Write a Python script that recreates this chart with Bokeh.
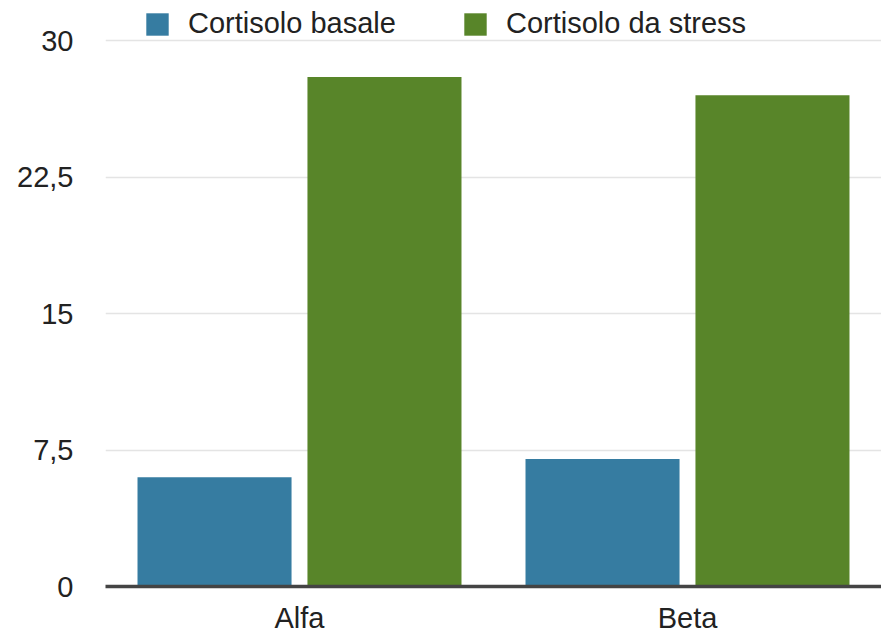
from bokeh.plotting import figure
from bokeh.models import (ColumnDataSource, FixedTicker, CustomJSTickFormatter,
                          Legend, LegendItem, Range1d, FactorRange)
from bokeh.transform import dodge
from bokeh.embed import file_html
from bokeh.resources import INLINE

categories = ["Alfa", "Beta"]
basale = [6, 7]
stress = [28, 27]
series_names = ["Cortisolo basale", "Cortisolo da stress"]
y_ticks = [0, 7.5, 15, 22.5, 30]

FONT = "Liberation Sans"
TXT = "#222222"
BLUE = "#367ca1"
GREEN = "#588529"

src = ColumnDataSource(dict(cat=categories, basale=basale, stress=stress))

# y range extends a little above 30 so the legend row sits inside the frame
p = figure(x_range=FactorRange(*categories, range_padding=0),
           y_range=Range1d(0, 32.2),
           width=881, height=636,
           output_backend="svg", toolbar_location=None,
           min_border_left=105, min_border_right=0,
           min_border_top=0, min_border_bottom=50)
p.outline_line_color = None
p.background_fill_color = "white"
p.border_fill_color = "white"

r1 = p.vbar(x=dodge("cat", -0.219, range=p.x_range), top="basale", width=0.397,
            source=src, fill_color=BLUE, line_color=None)
r2 = p.vbar(x=dodge("cat", 0.219, range=p.x_range), top="stress", width=0.397,
            source=src, fill_color=GREEN, line_color=None)

p.xgrid.grid_line_color = None
p.ygrid.grid_line_color = "#e4e4e4"
p.ygrid.grid_line_width = 1.5
p.ygrid.ticker = FixedTicker(ticks=y_ticks)

p.yaxis.ticker = FixedTicker(ticks=y_ticks)
p.yaxis.formatter = CustomJSTickFormatter(code="return tick.toString().replace('.', ',');")
p.yaxis.axis_line_color = None
p.yaxis.major_tick_line_color = None
p.yaxis.minor_tick_line_color = None
p.yaxis.major_tick_out = 0
p.yaxis.major_tick_in = 0
p.yaxis.major_label_standoff = 32
p.yaxis.major_label_text_font = FONT
p.yaxis.major_label_text_font_size = "29px"
p.yaxis.major_label_text_color = TXT

p.xaxis.axis_line_color = "#444444"
p.xaxis.axis_line_width = 3.5
p.xaxis.major_tick_line_color = None
p.xaxis.minor_tick_line_color = None
p.xaxis.major_tick_out = 0
p.xaxis.major_tick_in = 0
p.xaxis.major_label_standoff = 15
p.xaxis.major_label_text_font = FONT
p.xaxis.major_label_text_font_size = "29px"
p.xaxis.major_label_text_color = TXT

legend = Legend(items=[LegendItem(label=series_names[0], renderers=[r1]),
                       LegendItem(label=series_names[1], renderers=[r2])],
                location=(38, 546), orientation="horizontal",
                glyph_width=28, glyph_height=28, label_standoff=17, spacing=65,
                padding=0, margin=0, border_line_color=None,
                background_fill_alpha=0,
                label_text_font=FONT, label_text_font_size="29px",
                label_text_color=TXT)
p.add_layout(legend)

open("out.html", "w").write(file_html(p, INLINE))
